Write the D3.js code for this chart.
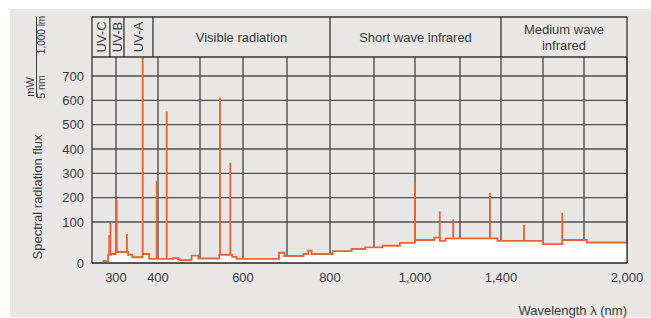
<!DOCTYPE html>
<html><head><meta charset="utf-8">
<script src="https://cdn.jsdelivr.net/npm/d3@7"></script>
<style>
body{margin:0;background:#fff;}
svg{display:block;font-family:"Liberation Sans",Arial,Helvetica,sans-serif;}
</style>
</head><body>
<svg id="chart" width="651" height="318"></svg>
<script>
// ---- data ----
const xTickValues = [300, 400, 600, 800, 1000, 1400, 2000];
const xGridValues = [300, 400, 500, 600, 700, 800, 900, 1000, 1200, 1400, 1600, 1800, 2000];
const yTickValues = [0, 100, 200, 300, 400, 500, 600, 700];
const yGridValues = [100, 200, 300, 400, 500, 600, 700];
const bandNames = ["UV-C", "UV-B", "UV-A", "Visible radiation", "Short wave infrared", "Medium wave|infrared"];
const bandEdges = [245, 286, 319, 388, 800, 1400, 2000];
// continuum (step start wavelength, flux)
const contWl   = [269, 282, 288.5, 299, 329, 339, 363.5, 379, 436, 447.6, 452, 480, 496, 545, 575, 585, 682, 694, 738, 749.5, 757, 806, 849, 880, 921, 963, 1000, 1086, 1111, 1136, 1382, 1599, 1694, 1813, 2000];
const contFlux = [5,   20,  22,    27,  20,  14,  22,    10,  12,  9,     7,   18,  11,  20,  15,  10,  25,  17,  22,  30,    22,  29,  34,  38,  42,  49,  56,   62,   54,   60,   54,   46,   56,   50,   50];
// emission lines (wavelength, peak flux)
const lineWl   = [284.6, 287.4, 301.7, 326, 363.5, 397, 420.7, 546.5, 570.5, 1000, 1110, 1170, 1346, 1509.5, 1694];
const linePeak = [68,    98,    191,   71,  900,   270, 555,   613,   344,   260,  143,  111,  219,  93,     138];

// ---- layout ----
const svg = d3.select("#chart");
const L = 92, R = 627, headTop = 17, plotTop = 57, plotBot = 263;
const x = d3.scaleLinear()
  .domain([245, 300, 400, 500, 600, 700, 800, 900, 1000, 1200, 1400, 1600, 1800, 2000])
  .range([L, 116, 158, 200, 243, 287, 330, 374, 415, 460, 501, 543, 584, R]);
const y = d3.scaleLinear().domain([0, 100, 700]).range([plotBot, 222, 76]);

const textCol = "#3a3a3a", gridCol = "#4f4f4f", curveCol = "#ec6436";

// background panel
svg.append("rect").attr("x", 10).attr("y", 9).attr("width", 641).attr("height", 308).attr("fill", "#e8e7e6");

// grid
const g = svg.append("g");
g.selectAll(".hg").data(yGridValues).enter().append("line")
  .attr("x1", L).attr("x2", R).attr("y1", d => y(d)).attr("y2", d => y(d))
  .attr("stroke", gridCol).attr("stroke-width", 1.4);
g.selectAll(".vg").data(xGridValues).enter().append("line")
  .attr("x1", d => x(d)).attr("x2", d => x(d)).attr("y1", plotTop).attr("y2", plotBot)
  .attr("stroke", gridCol).attr("stroke-width", 1.4);

// build step data
const contPts = [];
contWl.forEach((w, i) => {
  if (i > 0) contPts.push([w, contFlux[i - 1]]);
  contPts.push([w, contFlux[i]]);
});
const events = [];
contWl.forEach((w, i) => events.push({w, type: 0, v: contFlux[i]}));
lineWl.forEach((w, i) => events.push({w, type: 1, v: linePeak[i]}));
events.sort((a, b) => a.w - b.w || a.type - b.type);
const linePts = [];
let cur = null;
events.forEach(e => {
  if (e.type === 0) {
    if (cur !== null) linePts.push([e.w, cur]);
    linePts.push([e.w, e.v]);
    cur = e.v;
  } else {
    linePts.push([e.w, cur], [e.w, e.v], [e.w, cur]);
  }
});

// clip
svg.append("clipPath").attr("id", "clip").append("rect")
  .attr("x", L).attr("y", plotTop).attr("width", R - L).attr("height", plotBot - plotTop);

const area = d3.area().x(d => x(d[0])).y0(y(0)).y1(d => y(d[1]));
svg.append("path").datum(contPts).attr("d", area).attr("fill", "#fff").attr("clip-path", "url(#clip)");

const line = d3.line().x(d => x(d[0])).y(d => y(d[1]));
svg.append("path").datum(linePts).attr("d", line).attr("fill", "none")
  .attr("stroke", curveCol).attr("stroke-width", 1.9).attr("stroke-linejoin", "miter")
  .attr("clip-path", "url(#clip)");

// frame / header
const frame = svg.append("g").attr("stroke", "#333").attr("stroke-width", 1.3);
frame.append("line").attr("x1", L).attr("x2", R).attr("y1", headTop).attr("y2", headTop);
frame.append("line").attr("x1", L).attr("x2", R).attr("y1", plotTop).attr("y2", plotTop);
frame.append("line").attr("x1", L).attr("x2", L).attr("y1", headTop).attr("y2", plotBot);
frame.append("line").attr("x1", R).attr("x2", R).attr("y1", headTop).attr("y2", plotBot);
frame.selectAll(".be").data(bandEdges.slice(1, -1)).enter().append("line")
  .attr("x1", d => x(d)).attr("x2", d => x(d)).attr("y1", headTop).attr("y2", plotTop);
svg.append("line").attr("x1", L).attr("x2", R).attr("y1", plotBot).attr("y2", plotBot)
  .attr("stroke", "#222").attr("stroke-width", 1.6);

// band labels
bandNames.forEach((name, i) => {
  const cx = (x(bandEdges[i]) + x(bandEdges[i + 1])) / 2;
  const cy = (headTop + plotTop) / 2;
  if (i < 3) {
    svg.append("text").attr("transform", `translate(${cx + 0.5},${cy}) rotate(-90)`)
      .attr("text-anchor", "middle").attr("dominant-baseline", "central")
      .attr("font-size", 13).attr("fill", textCol).text(name);
  } else {
    const parts = name.split("|");
    parts.forEach((p, j) => {
      svg.append("text").attr("x", cx).attr("y", cy + (j - (parts.length - 1) / 2) * 16)
        .attr("text-anchor", "middle").attr("dominant-baseline", "central")
        .attr("font-size", 13).attr("fill", textCol).text(p);
    });
  }
});

// y tick labels
svg.selectAll(".yl").data(yTickValues).enter().append("text")
  .attr("x", 84).attr("y", d => y(d)).attr("text-anchor", "end").attr("dominant-baseline", "central")
  .attr("font-size", 13).attr("fill", textCol).text(d => d);

// x tick labels
const fmt = d3.format(",");
svg.selectAll(".xl").data(xTickValues).enter().append("text")
  .attr("x", d => x(d)).attr("y", 282).attr("text-anchor", "middle")
  .attr("font-size", 13).attr("fill", textCol).text(d => fmt(d));

// axis titles
svg.append("text").attr("transform", "translate(42,197) rotate(-90)")
  .attr("text-anchor", "middle").attr("font-size", 13).attr("fill", textCol).text("Spectral radiation flux");
svg.append("text").attr("x", 627).attr("y", 315).attr("text-anchor", "end")
  .attr("font-size", 13).attr("fill", textCol).text("Wavelength λ (nm)");

// unit label
svg.append("text").attr("transform", "translate(34,87) rotate(-90)")
  .attr("text-anchor", "middle").attr("font-size", 11).attr("fill", textCol).text("mW");
svg.append("line").attr("x1", 36.5).attr("x2", 36.5).attr("y1", 17).attr("y2", 97)
  .attr("stroke", textCol).attr("stroke-width", 1);
svg.append("text").attr("transform", "translate(45,87) rotate(-90)")
  .attr("text-anchor", "middle").attr("font-size", 10.5).attr("fill", textCol).text("5 nm");
svg.append("text").attr("transform", "translate(45,35) rotate(-90)")
  .attr("text-anchor", "middle").attr("font-size", 10).attr("fill", textCol).text("1,000 lm");
</script>
</body></html>
